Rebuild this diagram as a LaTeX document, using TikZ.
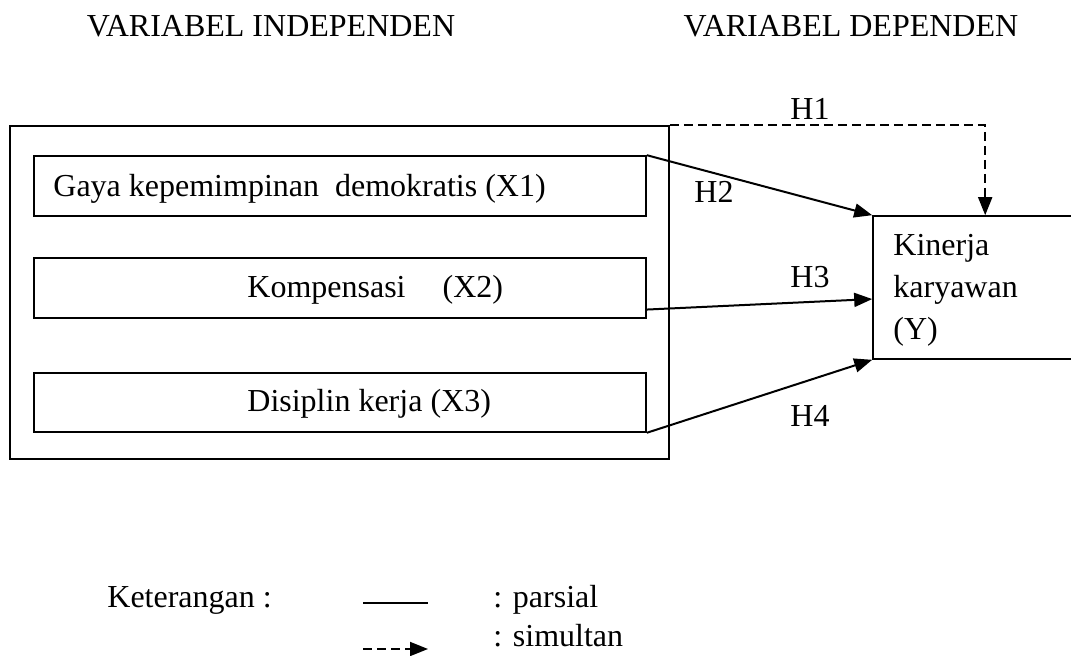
\documentclass[tikz,border=0pt]{standalone}
\usepackage{fontspec}
\setmainfont{Liberation Serif}
\usetikzlibrary{arrows.meta,calc}

\begin{document}
\begin{tikzpicture}[x=0.5pt,y=-0.5pt,
  every node/.style={font=\fontsize{16}{21}\selectfont},
  box/.style={draw,line width=0.8pt,inner sep=0pt},
  lbl/.style={anchor=base west,inner sep=0pt},
  parsial/.style={line width=1pt,-{Triangle[length=9pt,width=7pt]}},
  simul/.style={line width=0.9pt,dash pattern=on 4.5pt off 2.5pt,-{Triangle[length=9pt,width=7pt]}}]
  \useasboundingbox (0,0) rectangle (1071,656);
  \node [lbl,anchor=base] (hind) at (271,37) {VARIABEL INDEPENDEN};
  \node [lbl,anchor=base] (hdep) at (851,37) {VARIABEL DEPENDEN};
  \node [box,minimum width=329.5pt,minimum height=166.5pt] (outer) at (339.5,292.5) {};
  \node [box,minimum width=306pt,minimum height=30pt] (x1) at (340,186) {};
  \node [box,minimum width=306pt,minimum height=30pt] (x2) at (340,288) {};
  \node [box,minimum width=306pt,minimum height=29.5pt] (x3) at (340,402.5) {};
  \node [lbl] (t1) at (53,197) {Gaya kepemimpinan~ demokratis (X1)};
  \node [lbl] (t2) at (247,298) {Kompensasi\hspace{18.5pt}(X2)};
  \node [lbl] (t3) at (247,412) {Disiplin kerja (X3)};
  \node [box,minimum width=118.5pt,minimum height=71.5pt] (y) at (991.5,287.5) {};
  \node [inner sep=0pt,anchor=north west,align=left] (ty) at (893,234) {Kinerja\\karyawan\\(Y)};
  \draw [simul] (outer.north east) -| ([xshift=56.5pt]y.north west);
  \draw [parsial] (x1.north east) -- (y.north west);
  \draw [parsial] ($(x2.north east)!0.85!(x2.south east)$) -- ($(y.north west)!0.58!(y.south west)$);
  \draw [parsial] (x3.south east) -- (y.south west);
  \node [lbl] (h1) at (790,120) {H1};
  \node [lbl] (h2) at (694,203) {H2};
  \node [lbl] (h3) at (790,288) {H3};
  \node [lbl] (h4) at (790,427) {H4};
  % keterangan
  \node [lbl] (ket) at (107,608) {Keterangan :};
  \coordinate (pa) at (363,603);
  \coordinate (pb) at (428,603);
  \coordinate (sa) at (363,649);
  \coordinate (sb) at (428,649);
  \draw [line width=1pt] (pa) -- (pb);
  \draw [simul] (sa) -- (sb);
  \node [lbl] (kpar) at (493,608) {: parsial};
  \node [lbl] (ksim) at (493,647) {: simultan};
\end{tikzpicture}
\end{document}
